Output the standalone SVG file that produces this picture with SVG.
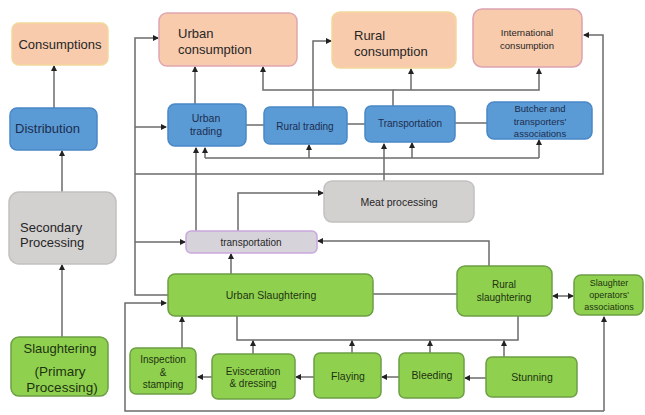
<svg xmlns="http://www.w3.org/2000/svg" width="645" height="415" viewBox="0 0 645 415">
<defs>
<marker id="ah" markerWidth="6" markerHeight="6" refX="5" refY="3" orient="auto" markerUnits="userSpaceOnUse">
<path d="M0,0 L6,3 L0,6 z" fill="#222"/>
</marker>
<marker id="as" markerWidth="6" markerHeight="6" refX="1" refY="3" orient="auto" markerUnits="userSpaceOnUse">
<path d="M6,0 L0,3 L6,6 z" fill="#222"/>
</marker>
<style>
.peach{fill:#f8cbad;stroke-width:1.5}
.blue{fill:#5b9bd5;stroke:#4a88c8;stroke-width:1.5}
.gray{fill:#d3d0d0;stroke:#c4c0c0;stroke-width:1.5}
.green{fill:#8fd14f;stroke:#6e9f45;stroke-width:1.5}
text{font-family:"Liberation Sans",Arial,sans-serif;text-anchor:middle;dominant-baseline:central}
.tl{text-anchor:start}
.dk{fill:#262626}
.bt{fill:#1b2d4f}
.gt{fill:#1e3311}
.c{fill:none;stroke:#6b6b6b;stroke-width:1.5}
.a{marker-end:url(#ah)}
</style>
</defs>
<rect width="645" height="415" fill="#ffffff"/>

<g id="connectors">
<path class="c a" d="M54,108 V66"/>
<path class="c a" d="M62,192 V151"/>
<path class="c a" d="M62,337 V265"/>
<path class="c a" d="M168,295 H135 V38 H158"/>
<path class="c a" d="M135,127 H166"/>
<path class="c a" d="M135,242 H185"/>
<path class="c a" d="M135,174 H603 V35 H584"/>
<path class="c a" d="M195,104 V67"/>
<path class="c a" d="M313,107 V41 H331"/>
<path class="c a" d="M393,106 V90 H263 V67"/>
<path class="c a" d="M411,90 V69"/>
<path class="c a" d="M393,90 H539 V69"/>
<path class="c" d="M246,125 H264"/>
<path class="c" d="M347,124 H365"/>
<path class="c" d="M455,123 H487"/>
<path class="c" d="M205,158 H539"/>
<path class="c a" d="M205,158 V148"/>
<path class="c a" d="M309,158 V145"/>
<path class="c a" d="M412,158 V143"/>
<path class="c a" d="M539,158 V140"/>
<path class="c a" d="M196,231 V148"/>
<path class="c a" d="M238,231 V193 H323"/>
<path class="c a" d="M384,182 V144"/>
<path class="c a" d="M489,266 V241 H318"/>
<path class="c a" d="M231,274 V254"/>
<path class="c" d="M373,294 H457"/>
<path class="c a" d="M553,296 H573" marker-start="url(#as)"/>
<path class="c a" d="M604,411 H125 V303 H166"/>
<path class="c a" d="M604,411 V317"/>
<path class="c" d="M237,316 V340 H518 V316"/>
<path class="c a" d="M253,354 V341"/>
<path class="c a" d="M352,353 V341"/>
<path class="c a" d="M430,353 V341"/>
<path class="c a" d="M504,357 V341"/>
<path class="c a" d="M182,349 V317"/>
<path class="c a" d="M486,378 H465"/>
<path class="c a" d="M399,377 H382"/>
<path class="c a" d="M314,377 H296"/>
<path class="c a" d="M212,377 H198"/>
</g>

<g id="consumptions">
<rect class="peach" x="12" y="23" width="96" height="42" rx="7" stroke="#f2d79a"/>
<text class="dk" x="60" y="44" font-size="13">Consumptions</text>
</g>
<g id="distribution">
<rect class="blue" x="10" y="108" width="87" height="42" rx="7" stroke="#c9cf86"/>
<text class="bt tl" x="15" y="128" font-size="13">Distribution</text>
</g>
<g id="secondary-processing">
<rect class="gray" x="9" y="192" width="107" height="72" rx="10" stroke="#efe2a6"/>
<text class="dk tl" x="20" y="227" font-size="13">Secondary</text>
<text class="dk tl" x="20" y="242" font-size="13">Processing</text>
</g>
<g id="slaughtering-primary">
<rect class="green" x="11" y="337" width="97" height="59" rx="8"/>
<text class="gt" x="60" y="348" font-size="13">Slaughtering</text>
<text class="gt" x="60" y="371" font-size="13.5">(Primary</text>
<text class="gt" x="62" y="387" font-size="13.5">Processing)</text>
</g>

<g id="urban-consumption">
<rect class="peach" x="159" y="13" width="138" height="53" rx="8" stroke="#e0a7b0"/>
<text class="dk tl" x="178" y="33" font-size="13">Urban</text>
<text class="dk tl" x="178" y="49" font-size="13">consumption</text>
</g>
<g id="rural-consumption">
<rect class="peach" x="332" y="12" width="124" height="56" rx="8" stroke="#f2d79a"/>
<text class="dk tl" x="354" y="35" font-size="13">Rural</text>
<text class="dk tl" x="354" y="51" font-size="13">consumption</text>
</g>
<g id="international-consumption">
<rect class="peach" x="473" y="9" width="109" height="58" rx="9" stroke="#dba3b0"/>
<text class="dk" x="527" y="32" font-size="9.5">International</text>
<text class="dk" x="527" y="45" font-size="9.5">consumption</text>
</g>

<g id="urban-trading">
<rect class="blue" x="168" y="104" width="78" height="42" rx="7"/>
<text class="bt" x="206" y="118" font-size="10.5">Urban</text>
<text class="bt" x="206" y="131" font-size="10.5">trading</text>
</g>
<g id="rural-trading">
<rect class="blue" x="264" y="107" width="83" height="37" rx="6" stroke="#c9cf86"/>
<text class="bt" x="305" y="126" font-size="10">Rural trading</text>
</g>
<g id="transportation-trade">
<rect class="blue" x="365" y="106" width="90" height="36" rx="6" stroke="#c9cf86"/>
<text class="bt" x="410" y="123" font-size="10">Transportation</text>
</g>
<g id="butcher-associations">
<rect class="blue" x="487" y="102" width="105" height="37" rx="7"/>
<text class="bt" x="540" y="108" font-size="9.5">Butcher and</text>
<text class="bt" x="540" y="121" font-size="9.5">transporters'</text>
<text class="bt" x="540" y="133" font-size="9.5">associations</text>
</g>

<g id="meat-processing">
<rect class="gray" x="324" y="181" width="150" height="41" rx="8"/>
<text class="dk" x="399" y="202" font-size="10.5">Meat processing</text>
</g>
<g id="transportation">
<rect x="186" y="231" width="131" height="22" rx="5" fill="#d6d3da" stroke="#c9a8de" stroke-width="1.5"/>
<text class="dk" x="251" y="242" font-size="10">transportation</text>
</g>

<g id="urban-slaughtering">
<rect class="green" x="168" y="274" width="205" height="42" rx="7"/>
<text class="gt" x="271" y="295" font-size="10.5">Urban Slaughtering</text>
</g>
<g id="rural-slaughtering">
<rect class="green" x="457" y="266" width="95" height="50" rx="8"/>
<text class="gt" x="504" y="284" font-size="10">Rural</text>
<text class="gt" x="504" y="297" font-size="10">slaughtering</text>
</g>
<g id="slaughter-operators">
<rect class="green" x="574" y="275" width="69" height="40" rx="7"/>
<text class="gt" x="609" y="283" font-size="9">Slaughter</text>
<text class="gt" x="609" y="295" font-size="9">operators'</text>
<text class="gt" x="609" y="307" font-size="9">associations</text>
</g>

<g id="inspection-stamping">
<rect class="green" x="130" y="348" width="66" height="46" rx="6"/>
<text class="gt" x="163" y="359" font-size="10">Inspection</text>
<text class="gt" x="163" y="372" font-size="10">&amp;</text>
<text class="gt" x="163" y="384" font-size="10">stamping</text>
</g>
<g id="evisceration-dressing">
<rect class="green" x="212" y="354" width="83" height="45" rx="6"/>
<text class="gt" x="253" y="371" font-size="10">Evisceration</text>
<text class="gt" x="253" y="383" font-size="10">&amp; dressing</text>
</g>
<g id="flaying">
<rect class="green" x="314" y="353" width="67" height="45" rx="6"/>
<text class="gt" x="348" y="376" font-size="10.5">Flaying</text>
</g>
<g id="bleeding">
<rect class="green" x="399" y="353" width="65" height="45" rx="6"/>
<text class="gt" x="432" y="375" font-size="10.5">Bleeding</text>
</g>
<g id="stunning">
<rect class="green" x="486" y="357" width="91" height="40" rx="6"/>
<text class="gt" x="532" y="377" font-size="10.5">Stunning</text>
</g>
</svg>
